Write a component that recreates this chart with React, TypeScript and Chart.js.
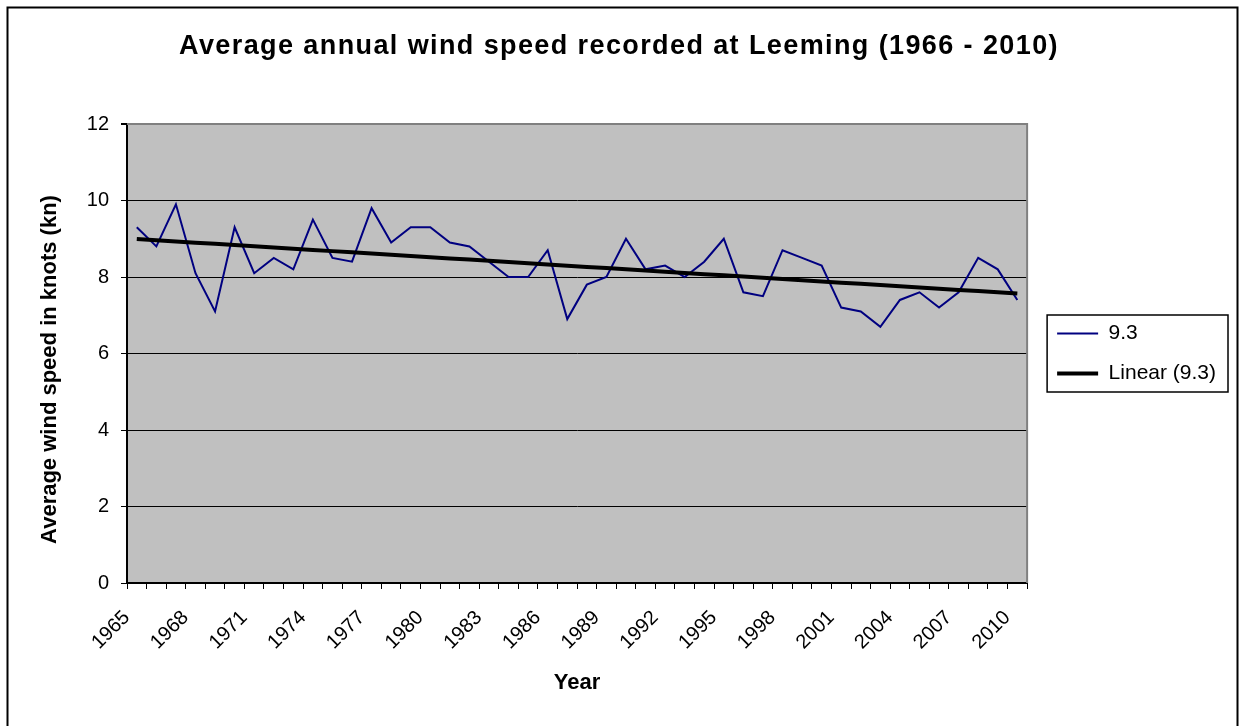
import React, { useEffect, useRef } from 'react';
import { Chart, registerables } from 'chart.js';

Chart.register(...registerables);

const chartTitle = 'Average annual wind speed recorded at Leeming (1966 - 2010)';
const xTitle = 'Year';
const yTitle = 'Average wind speed in knots (kn)';
const seriesName = '9.3';
const trendName = 'Linear (9.3)';

const years = [
  '1965', '1966', '1967', '1968', '1969', '1970', '1971', '1972', '1973', '1974',
  '1975', '1976', '1977', '1978', '1979', '1980', '1981', '1982', '1983', '1984',
  '1985', '1986', '1987', '1988', '1989', '1990', '1991', '1992', '1993', '1994',
  '1995', '1996', '1997', '1998', '1999', '2000', '2001', '2002', '2003', '2004',
  '2005', '2006', '2007', '2008', '2009', '2010',
];

const windSpeed = [
  9.3, 8.8, 9.9, 8.1, 7.1, 9.3, 8.1, 8.5, 8.2, 9.5,
  8.5, 8.4, 9.8, 8.9, 9.3, 9.3, 8.9, 8.8, 8.4, 8.0,
  8.0, 8.7, 6.9, 7.8, 8.0, 9.0, 8.2, 8.3, 8.0, 8.4,
  9.0, 7.6, 7.5, 8.7, 8.5, 8.3, 7.2, 7.1, 6.7, 7.4,
  7.6, 7.2, 7.6, 8.5, 8.2, 7.4,
];

const yMin = 0;
const yMax = 12;
const yStep = 2;
const xLabelEvery = 3;

// least-squares linear trendline (as the spreadsheet's "Linear" trendline)
function linearTrend(values: number[]): number[] {
  const n = values.length;
  let sx = 0, sy = 0, sxx = 0, sxy = 0;
  values.forEach((v, i) => { sx += i; sy += v; sxx += i * i; sxy += i * v; });
  const slope = (n * sxy - sx * sy) / (n * sxx - sx * sx);
  const intercept = (sy - slope * sx) / n;
  return values.map((_, i) => intercept + slope * i);
}
const trendValues = linearTrend(windSpeed);

const FONT = 'Arial, "Liberation Sans", Helvetica, sans-serif';

const decorPlugin = {
  id: 'decor',
  afterLayout(chart: any) {
    const ctx = chart.ctx;
    const tb = chart.titleBlock;
    if (tb && !tb.__wrapped) {
      const orig = tb.draw.bind(tb);
      tb.draw = (...args: any[]) => {
        ctx.save();
        ctx.translate(6, 0);
        ctx.letterSpacing = '1.4px';
        orig(...args);
        ctx.restore();
      };
      tb.__wrapped = true;
    }
    const ys = chart.scales.y;
    if (ys && !ys.__wrapped) {
      const origT = ys.drawTitle.bind(ys);
      ys.drawTitle = (...args: any[]) => {
        ctx.save();
        ctx.translate(0, 16);
        origT(...args);
        ctx.restore();
      };
      ys.__wrapped = true;
    }
  },
  beforeDraw(chart: any) {
    const { ctx, chartArea: a, width, height } = chart;
    ctx.save();
    ctx.fillStyle = '#ffffff';
    ctx.fillRect(0, 0, width, height);
    ctx.strokeStyle = '#000000';
    ctx.lineWidth = 2;
    ctx.strokeRect(7.5, 7.5, width - 1.5 - 7.5, height + 20);
    ctx.fillStyle = '#C0C0C0';
    ctx.fillRect(a.left, a.top, a.right - a.left, a.bottom - a.top);
    ctx.restore();
  },
  beforeDatasetsDraw(chart: any) {
    const { ctx, chartArea: a } = chart;
    ctx.save();
    ctx.strokeStyle = '#808080';
    ctx.lineWidth = 2;
    ctx.beginPath();
    ctx.moveTo(a.left, a.top);
    ctx.lineTo(a.right, a.top);
    ctx.lineTo(a.right, a.bottom);
    ctx.stroke();
    ctx.restore();
  },
  afterDraw(chart: any) {
    const lg = chart.legend;
    if (!lg || !lg.legendHitBoxes || !lg.legendHitBoxes.length) return;
    const hb = lg.legendHitBoxes[0];
    const { ctx } = chart;
    ctx.save();
    ctx.strokeStyle = '#000000';
    ctx.lineWidth = 1.5;
    const left = hb.left - 10;
    const top = hb.top - 8;
    ctx.strokeRect(left, top, 1228 - left, 77);
    ctx.restore();
  },
};

export default function App() {
  const canvasRef = useRef<HTMLCanvasElement | null>(null);

  useEffect(() => {
    document.body.style.margin = '0';
    const canvas = canvasRef.current;
    if (!canvas) return;
    const chart = new Chart(canvas, {
      type: 'line',
      data: {
        labels: years,
        datasets: [
          {
            label: seriesName,
            data: windSpeed,
            borderColor: '#000080',
            backgroundColor: '#000080',
            borderWidth: 2,
            pointRadius: 0,
            tension: 0,
            fill: false,
            order: 1,
          },
          {
            label: trendName,
            data: trendValues,
            borderColor: '#000000',
            backgroundColor: '#000000',
            borderWidth: 4,
            pointRadius: 0,
            tension: 0,
            fill: false,
            order: 0,
          },
        ],
      },
      options: {
        responsive: false,
        animation: false,
        devicePixelRatio: 1,
        layout: { padding: { left: 0, right: 13, top: 0, bottom: 0 } },
        plugins: {
          title: {
            display: true,
            text: chartTitle,
            color: '#000000',
            font: { family: FONT, size: 27, weight: 'bold' },
            padding: { top: 30.8, bottom: 60.8 },
          },
          legend: {
            display: true,
            position: 'right',
            fullSize: false,
            labels: {
              usePointStyle: true,
              pointStyle: 'line',
              pointStyleWidth: 41,
              padding: 19,
              color: '#000000',
              font: { family: FONT, size: 21 },
              sort: (a: any, b: any) => a.datasetIndex - b.datasetIndex,
            },
          },
          tooltip: { enabled: false },
        },
        scales: {
          x: {
            type: 'category',
            offset: true,
            grid: {
              display: true,
              offset: true,
              drawOnChartArea: false,
              drawTicks: true,
              tickLength: 6,
              tickColor: '#000000',
              color: '#000000',
            },
            border: { display: true, color: '#000000', width: 2 },
            ticks: {
              autoSkip: false,
              maxRotation: 45,
              minRotation: 45,
              padding: 17,
              labelOffset: -10,
              color: '#000000',
              font: { family: FONT, size: 20 },
              callback: (_v: any, i: number) => (i % xLabelEvery === 0 ? years[i] : ''),
            },
            title: {
              display: true,
              text: xTitle,
              color: '#000000',
              font: { family: FONT, size: 22, weight: 'bold' },
              padding: { top: 0, bottom: 29.8 },
            },
            afterFit: (s: any) => { s.height = 143; },
          },
          y: {
            position: 'left',
            min: yMin,
            max: yMax,
            grid: {
              display: true,
              drawTicks: true,
              tickLength: 6,
              tickColor: '#000000',
              color: (c: any) => (c.tick && c.tick.value === yMax ? '#808080' : '#000000'),
              lineWidth: (c: any) => (c.tick && c.tick.value === yMax ? 2 : 1),
            },
            border: { display: true, color: '#000000', width: 2 },
            ticks: {
              stepSize: yStep,
              padding: 12,
              color: '#000000',
              font: { family: FONT, size: 20 },
            },
            title: {
              display: true,
              text: yTitle,
              color: '#000000',
              font: { family: FONT, size: 22, weight: 'bold' },
              padding: { top: 36.8, bottom: 0 },
            },
            afterFit: (s: any) => { s.width = 127; },
          },
          yR: {
            position: 'right',
            display: true,
            grid: { display: false },
            border: { display: false },
            ticks: { display: false },
            afterFit: (s: any) => { s.width = 11; },
          },
        },
      },
      plugins: [decorPlugin],
    } as any);
    return () => chart.destroy();
  }, []);

  return (
    <div style={{ width: 1239, height: 726 }}>
      <canvas ref={canvasRef} width={1239} height={726} style={{ display: 'block' }} />
    </div>
  );
}
